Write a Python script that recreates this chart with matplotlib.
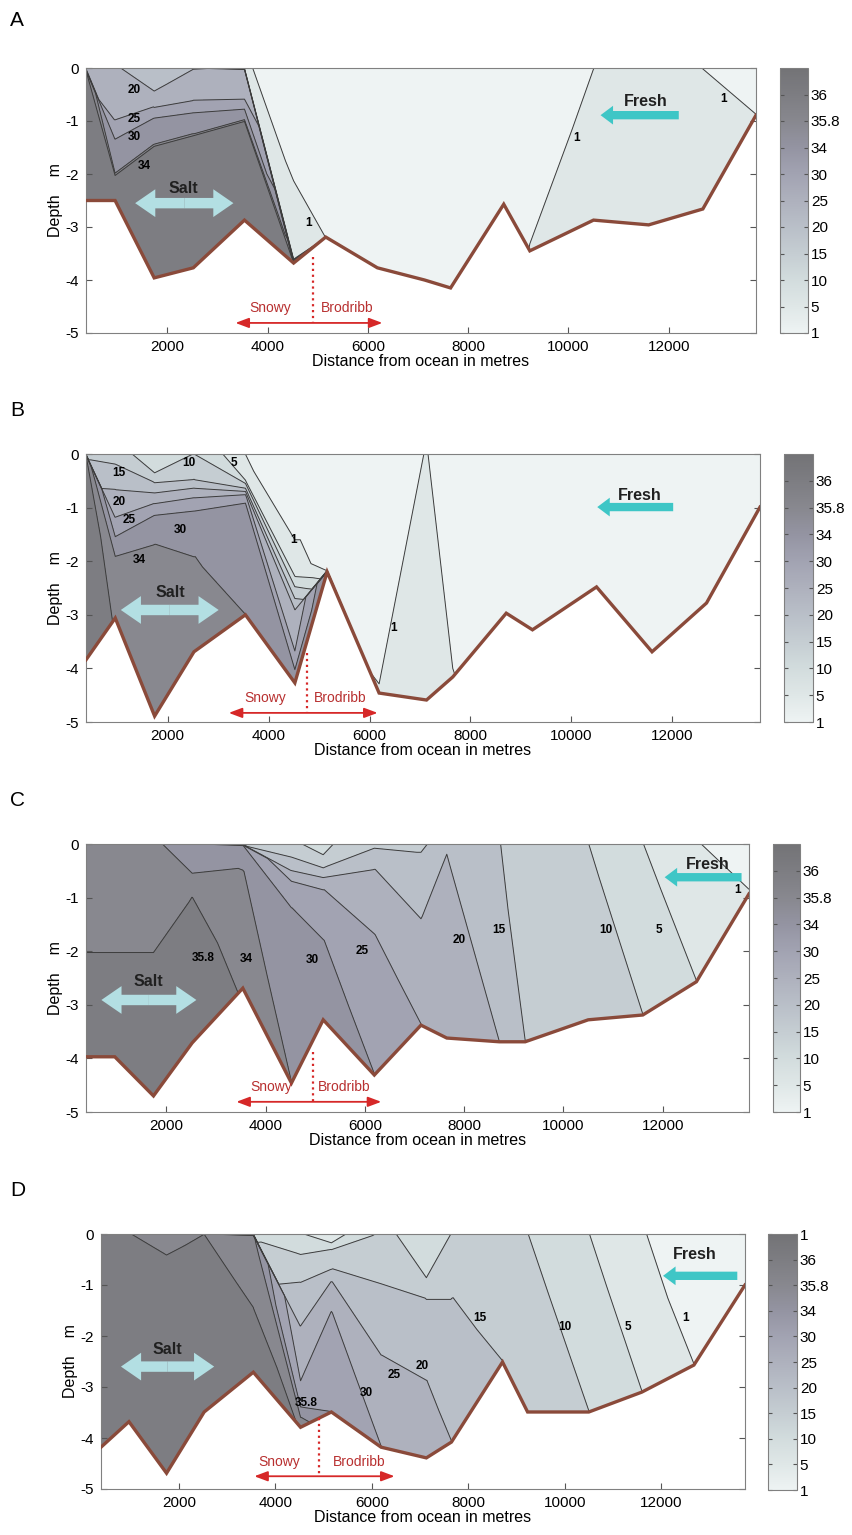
import numpy as np
import matplotlib
matplotlib.use('Agg')
import matplotlib.pyplot as plt
import matplotlib.tri as mtri
from matplotlib.colors import LinearSegmentedColormap, Normalize
from matplotlib.cm import ScalarMappable

plt.rcParams['font.family'] = ['Liberation Sans', 'DejaVu Sans']
plt.rcParams['axes.unicode_minus'] = False

# station positions along the estuary (m from the ocean)
X_STATIONS = [380, 960, 1740, 2520, 3540, 4520, 5160, 6190, 7130, 7650,
              8710, 9230, 10500, 11600, 12680, 13740]

# salinity profiles per station: (depth m, salinity); last entry is the bed
SECTION_A = [
    [(0, 21), (-0.05, 35.9), (-2.5, 35.9)],
    [(0, 20.5), (-1.0, 25.1), (-1.35, 30.1), (-2.0, 34.1), (-2.03, 35.9), (-2.5, 35.9)],
    [(0, 17), (-0.45, 20.1), (-0.75, 25.1), (-0.95, 30.1), (-1.45, 34.1), (-1.48, 35.9), (-3.96, 35.9)],
    [(0, 19.8), (-0.62, 25.1), (-0.85, 30.1), (-1.25, 34.1), (-1.28, 35.9), (-3.77, 35.9)],
    [(0, 1.1), (-0.03, 20.5), (-0.6, 25.1), (-0.78, 30.1), (-0.98, 34.1), (-1.01, 35.9), (-2.87, 35.9)],
    [(0, 0.5), (-2.1, 0.98), (-3.6, 2.0), (-3.68, 35.9)],
    [(0, 0.5), (-3.19, 0.99)],
    [(0, 0.5), (-3.77, 0.5)],
    [(0, 0.5), (-4.0, 0.5)],
    [(0, 0.5), (-4.15, 0.5)],
    [(0, 0.5), (-2.57, 0.5)],
    [(0, 0.5), (-3.45, 1.02)],
    [(0, 0.99), (-2.87, 2.5)],
    [(0, 1.5), (-2.96, 2.5)],
    [(0, 0.99), (-2.66, 2.5)],
    [(0, 0.5), (-0.89, 1.01)],
]

SECTION_B = [
    [(0, 14), (-0.03, 35.81), (-3.84, 35.9)],
    [(0, 13), (-0.67, 20.1), (-1.19, 25.1), (-1.55, 30.1), (-1.92, 34.1), (-3.06, 35.79)],
    [(0, 6), (-0.36, 10.1), (-0.54, 15.1), (-0.73, 20.1), (-0.93, 25.1), (-1.15, 30.1), (-1.7, 34.1), (-4.89, 35.5)],
    [(0, 10.1), (-0.48, 15.1), (-0.64, 20.1), (-0.82, 25.1), (-1.07, 30.1), (-1.94, 34.1), (-3.69, 35.5)],
    [(0, 0.98), (-0.5, 5.1), (-0.55, 10.1), (-0.64, 15.1), (-0.7, 20.1), (-0.76, 25.1), (-0.92, 30.1), (-2.95, 33.5), (-3.0, 34.1)],
    [(0, 0.5), (-1.92, 1.1), (-2.29, 5.1), (-2.48, 10.1), (-2.7, 15.1), (-2.91, 20.1), (-3.69, 25.1), (-4.03, 30.1), (-4.27, 34.1)],
    [(0, 0.5), (-2.17, 0.9), (-2.2, 34.5)],
    [(0, 0.5), (-4.46, 1.02)],
    [(0, 1.03), (-4.59, 3.0)],
    [(0, 0.5), (-4.16, 1.02)],
    [(0, 0.5), (-2.97, 0.5)],
    [(0, 0.5), (-3.28, 0.5)],
    [(0, 0.5), (-2.48, 0.5)],
    [(0, 0.5), (-3.69, 0.5)],
    [(0, 0.5), (-2.78, 0.5)],
    [(0, 0.5), (-0.99, 0.5)],
]

SECTION_C = [
    [(0, 35), (-2.0, 35.7), (-2.05, 35.9), (-3.97, 35.9)],
    [(0, 35), (-2.0, 35.7), (-2.05, 35.9), (-3.97, 35.9)],
    [(0, 34.3), (-2.0, 35.7), (-2.05, 35.9), (-4.7, 35.9)],
    [(0, 33), (-0.6, 34.1), (-1.0, 35.81), (-3.71, 35.9)],
    [(0, 14.5), (-0.03, 30.1), (-0.5, 34.1), (-2.69, 35.79)],
    [(0, 10.5), (-0.25, 15.1), (-0.5, 20.1), (-0.7, 25.1), (-1.2, 30.1), (-4.41, 33.9), (-4.46, 34.1)],
    [(0, 9), (-0.22, 10.1), (-0.45, 15.1), (-0.63, 20.1), (-0.86, 25.1), (-1.8, 30.1), (-3.28, 33)],
    [(0, 14), (-0.48, 20.1), (-1.7, 25.1), (-4.26, 29.9), (-4.31, 30.1)],
    [(0, 14), (-0.17, 15.1), (-1.42, 20.1), (-3.33, 24.9), (-3.38, 25.1)],
    [(0, 18), (-0.2, 20.1), (-3.62, 22)],
    [(0, 15.05), (-3.64, 19), (-3.69, 20.1)],
    [(0, 14), (-3.64, 14.9), (-3.69, 15.1)],
    [(0, 10.05), (-3.28, 14)],
    [(0, 5.05), (-3.14, 9.8), (-3.19, 10.1)],
    [(0, 1.05), (-2.52, 4.9), (-2.57, 5.1)],
    [(0, 0.5), (-0.93, 1.05)],
]

SECTION_D = [
    [(0, 35.9), (-4.18, 35.9)],
    [(0, 35.82), (-3.68, 35.9)],
    [(0, 35.5), (-0.44, 35.82), (-4.69, 35.9)],
    [(0, 35.78), (-0.03, 35.9), (-3.49, 35.9)],
    [(0, 9), (-0.03, 34.5), (-1.45, 35.81), (-2.71, 35.9)],
    [(0, 5.3), (-0.41, 10.1), (-0.96, 15.1), (-1.82, 20.1), (-2.9, 25.1), (-3.4, 30.1), (-3.6, 34.1), (-3.79, 35.79)],
    [(0, 2.5), (-0.18, 5.1), (-0.31, 10.1), (-0.7, 15.1), (-0.94, 20.1), (-1.53, 25.1), (-3.44, 29.5), (-3.49, 30.1)],
    [(0, 11), (-1.0, 15.1), (-2.4, 20.1), (-4.13, 24.9), (-4.18, 25.1)],
    [(0, 8), (-0.9, 10.1), (-1.29, 15.1), (-2.9, 20.1), (-4.39, 23)],
    [(0, 10.05), (-1.29, 15.1), (-4.03, 19.9), (-4.08, 20.1)],
    [(0, 12), (-2.46, 14.9), (-2.51, 15.1)],
    [(0, 10.05), (-3.49, 13)],
    [(0, 5.05), (-3.44, 9.9), (-3.49, 10.1)],
    [(0, 1.05), (-3.05, 4.9), (-3.1, 5.1)],
    [(0, 0.5), (-2.52, 0.95), (-2.57, 1.05)],
    [(0, 0.5), (-1.0, 0.5)],
]

LEVELS = [1, 5, 10, 15, 20, 25, 30, 34, 35.8, 36]
CBAR_LABELS = ['1', '5', '10', '15', '20', '25', '30', '34', '35.8', '36']
CBAR_LABELS_D = CBAR_LABELS + ['1']

# colour ramp, one entry per colorbar step (fresh -> salt)
RAMP = ['#eef3f3', '#dfe7e7', '#d2dcdd', '#c5cdd2', '#b9bfc8', '#aeb1bd',
        '#a2a3b2', '#9494a2', '#88888f', '#7d7d82', '#737376']

cmap = LinearSegmentedColormap.from_list('salinity', RAMP)
fill_levels = [0] + LEVELS + [40]
fill_colors = [cmap(k / 10) for k in range(len(fill_levels) - 1)]

W, H = 853, 1535


def px_rect(l, t, r, b):
    return [l / W, 1 - b / H, (r - l) / W, (b - t) / H]


def build_section(xs, profiles, w=2.0):
    # zip neighbouring casts together, picking diagonals that join similar values
    px, pz, ps, cols = [], [], [], []
    for xi, prof in zip(xs, profiles):
        idx = []
        for d, s in prof:
            idx.append(len(px))
            px.append(xi); pz.append(d); ps.append(s)
        cols.append(idx)
    px, pz, ps = np.array(px, float), np.array(pz, float), np.array(ps, float)
    tris = []
    for A, B in zip(cols[:-1], cols[1:]):
        fa = pz[A] / pz[A[-1]]
        fb = pz[B] / pz[B[-1]]
        a = b = 0
        while a < len(A) - 1 or b < len(B) - 1:
            if b == len(B) - 1:
                step_a = True
            elif a == len(A) - 1:
                step_a = False
            else:
                ca = abs(ps[A[a + 1]] - ps[B[b]]) + w * abs(fa[a + 1] - fb[b])
                cb = abs(ps[A[a]] - ps[B[b + 1]]) + w * abs(fa[a] - fb[b + 1])
                step_a = ca <= cb
            if step_a:
                tris.append([A[a], B[b], A[a + 1]]); a += 1
            else:
                tris.append([A[a], B[b], B[b + 1]]); b += 1
    return mtri.Triangulation(px, pz, np.array(tris)), ps


def fmt(v):
    return '%g' % v


SALT_COLOR = '#b3dfe3'
FRESH_COLOR = '#3ec6c6'
RIVER_RED = '#d62828'
BED_BROWN = '#8a4a3a'

panels = [
    dict(letter='A', data=SECTION_A, ax=(86, 68, 756, 333), cb=(780, 68, 808, 333), ly=20,
         cbl=CBAR_LABELS,
         salt=(1360, 3320, -2.55), salt_txt=(2320, -2.27),
         fresh=(12200, 10640, -0.89), fresh_txt=(11540, -0.64),
         river=(3360, 6290, -4.81), divide=(4900, -3.56), snowy=(4060, -4.53), brod=(5590, -4.53),
         labels=[(20, 1345, -0.42), (25, 1345, -0.96), (30, 1345, -1.3), (34, 1540, -1.84),
                 (1, 4815, -2.93), (1, 10160, -1.32), (1, 13100, -0.58)]),
    dict(letter='B', data=SECTION_B, ax=(86, 454, 760, 722), cb=(784, 454, 813, 722), ly=410,
         cbl=CBAR_LABELS,
         salt=(1070, 3010, -2.91), salt_txt=(2046, -2.59),
         fresh=(12019, 10514, -0.99), fresh_txt=(11365, -0.77),
         river=(3210, 6160, -4.83), divide=(4770, -3.71), snowy=(3940, -4.55), brod=(5425, -4.55),
         labels=[(15, 1030, -0.35), (10, 2416, -0.17), (5, 3307, -0.17), (20, 1030, -0.9),
                 (25, 1228, -1.23), (30, 2257, -1.42), (34, 1426, -1.98), (1, 4495, -1.6),
                 (1, 6475, -3.25)]),
    dict(letter='C', data=SECTION_C, ax=(86, 844, 749, 1112), cb=(773, 844, 800, 1112), ly=800,
         cbl=CBAR_LABELS,
         salt=(690, 2605, -2.91), salt_txt=(1637, -2.57),
         fresh=(13590, 12040, -0.62), fresh_txt=(12900, -0.39),
         river=(3410, 6330, -4.81), divide=(4945, -3.88), snowy=(4115, -4.53), brod=(5590, -4.53),
         labels=[(35.8, 2732, -2.13), (34, 3607, -2.15), (30, 4945, -2.16), (25, 5945, -1.99),
                 (20, 7890, -1.79), (15, 8690, -1.6), (10, 10850, -1.6), (5, 11920, -1.6),
                 (1, 13510, -0.86)]),
    dict(letter='D', data=SECTION_D, ax=(101, 1234, 745, 1489), cb=(768, 1234, 797, 1490), ly=1190,
         cbl=CBAR_LABELS_D,
         salt=(794, 2728, -2.6), salt_txt=(1750, -2.27),
         fresh=(13580, 12040, -0.82), fresh_txt=(12700, -0.4),
         river=(3560, 6470, -4.75), divide=(4910, -3.6), snowy=(4080, -4.48), brod=(5740, -4.48),
         labels=[(35.8, 4640, -3.32), (30, 5890, -3.12), (25, 6470, -2.76), (20, 7050, -2.58),
                 (15, 8240, -1.65), (10, 10000, -1.82), (5, 11310, -1.82), (1, 12500, -1.65)]),
]

fig = plt.figure(figsize=(W / 100, H / 100), dpi=100)

for p in panels:
    ax = fig.add_axes(px_rect(*p['ax']))
    tri, sal = build_section(X_STATIONS, p['data'])
    bed = [prof[-1][0] for prof in p['data']]

    ax.tricontourf(tri, sal, levels=fill_levels, colors=fill_colors)
    ax.tricontour(tri, sal, levels=LEVELS, colors='#3c3c3c', linewidths=0.7)
    ax.plot(X_STATIONS, bed, color=BED_BROWN, lw=2.4, solid_joinstyle='miter', zorder=5)

    for lev, lx, ly in p['labels']:
        ax.text(lx, ly, fmt(lev), fontsize=8.5, fontweight='bold', ha='center', va='center', zorder=6)

    # salt water exchange (double arrow)
    x0, x1, y = p['salt']
    xm = 0.5 * (x0 + x1)
    style = 'simple,head_width=2.0,head_length=1.45,tail_width=0.75'
    for xe in (x0, x1):
        ax.annotate('', xy=(xe, y), xytext=(xm, y),
                    arrowprops=dict(arrowstyle=style, mutation_scale=10, color=SALT_COLOR,
                                    lw=0, shrinkA=0, shrinkB=0), zorder=6)
    ax.text(*p['salt_txt'], 'Salt', fontsize=11.5, fontweight='bold', ha='center', va='center',
            color='#202020', zorder=7)

    # fresh water inflow
    xt, xh, y = p['fresh']
    ax.annotate('', xy=(xh, y), xytext=(xt, y),
                arrowprops=dict(arrowstyle='simple,head_width=1.35,head_length=0.9,tail_width=0.6',
                                mutation_scale=10, color=FRESH_COLOR, lw=0, shrinkA=0, shrinkB=0),
                zorder=6)
    ax.text(*p['fresh_txt'], 'Fresh', fontsize=11.5, fontweight='bold', ha='center', va='center',
            color='#202020', zorder=7)

    # Snowy / Brodribb reaches
    r0, r1, ry = p['river']
    ax.annotate('', xy=(r1, ry), xytext=(r0, ry),
                arrowprops=dict(arrowstyle='<|-|>,head_width=0.3,head_length=0.8',
                                color=RIVER_RED, lw=1.3, shrinkA=0, shrinkB=0), zorder=6)
    dx, dtop = p['divide']
    ax.plot([dx, dx], [dtop, ry], ':', color=RIVER_RED, lw=1.6, zorder=6)
    ax.text(*p['snowy'], 'Snowy', fontsize=10, color='#b83030', ha='center', va='center', zorder=7)
    ax.text(*p['brod'], 'Brodribb', fontsize=10, color='#b83030', ha='center', va='center', zorder=7)

    ax.set_xlim(X_STATIONS[0], X_STATIONS[-1])
    ax.set_ylim(-5, 0)
    ax.set_xticks([2000, 4000, 6000, 8000, 10000, 12000])
    ax.set_yticks([0, -1, -2, -3, -4, -5])
    ax.tick_params(direction='in', length=4, labelsize=11, right=True, color='#555555', pad=5)
    for s in ax.spines.values():
        s.set_color('#808080')
    ax.set_xlabel('Distance from ocean in metres', fontsize=11.5, labelpad=0)
    ax.set_ylabel('Depth    m', fontsize=11.5, labelpad=2)

    fig.text(10 / W, 1 - p['ly'] / H, p['letter'], fontsize=15, ha='left', va='center')

    # colour scale with evenly spaced salinity steps
    cax = fig.add_axes(px_rect(*p['cb']))
    sm = ScalarMappable(norm=Normalize(0, 10), cmap=cmap)
    cb = fig.colorbar(sm, cax=cax)
    ticks = list(range(len(p['cbl'])))
    cb.set_ticks(ticks)
    cb.set_ticklabels(p['cbl'])
    cb.outline.set_edgecolor('#808080')
    cax.tick_params(direction='in', length=3, labelsize=11, left=True, right=True,
                    color='#555555', pad=2)

fig.savefig('out.png', dpi=100)
